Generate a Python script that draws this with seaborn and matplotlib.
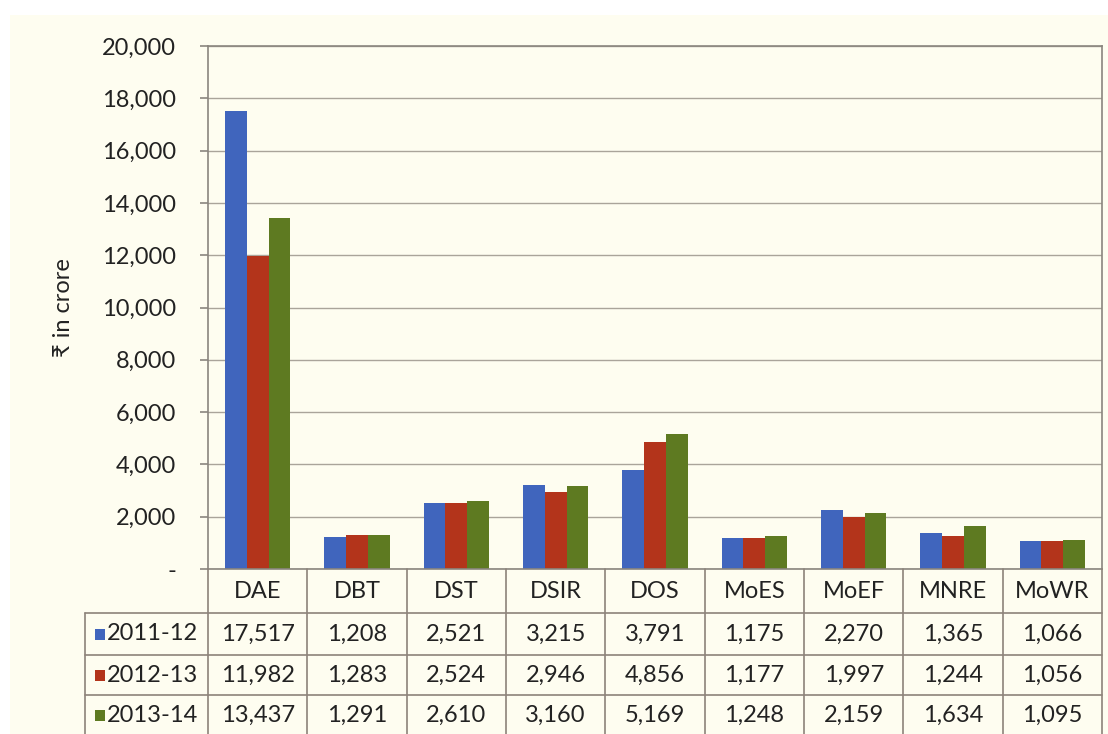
import matplotlib
matplotlib.use("Agg")
import matplotlib.pyplot as plt
import matplotlib.transforms as mtransforms
from matplotlib.patches import Rectangle
from matplotlib.lines import Line2D
import seaborn as sns
import pandas as pd

departments = ["DAE", "DBT", "DST", "DSIR", "DOS", "MoES", "MoEF", "MNRE", "MoWR"]
years = ["2011-12", "2012-13", "2013-14"]
v2011 = [17517, 1208, 2521, 3215, 3791, 1175, 2270, 1365, 1066]
v2012 = [11982, 1283, 2524, 2946, 4856, 1177, 1997, 1244, 1056]
v2013 = [13437, 1291, 2610, 3160, 5169, 1248, 2159, 1634, 1095]
yticks = [0, 2000, 4000, 6000, 8000, 10000, 12000, 14000, 16000, 18000, 20000]
colors = ["#4065bd", "#b3341b", "#5e7a21"]

series = [v2011, v2012, v2013]
rows = []
for yr, vals in zip(years, series):
    for d, v in zip(departments, vals):
        rows.append({"Department": d, "Year": yr, "Value": v})
df = pd.DataFrame(rows)

sns.set_theme(style="white")
plt.rcParams["font.family"] = ["Lato", "DejaVu Sans"]

W, H = 1108, 734
fig = plt.figure(figsize=(W / 100, H / 100), dpi=100)
fig.patch.set_facecolor("white")
bg = "#fefdf0"
fig.add_artist(Rectangle((10 / W, 0), 1 - 10 / W, 1 - 15 / H, transform=fig.transFigure,
                         facecolor=bg, edgecolor="none", zorder=-10))

L, R, T, B = 208, 1102, 46, 569
ax = fig.add_axes([L / W, 1 - B / H, (R - L) / W, (B - T) / H])
ax.set_facecolor(bg)

sns.barplot(data=df, x="Department", y="Value", hue="Year", palette=colors,
            width=0.66, saturation=1, ax=ax, legend=False, edgecolor="none")

ax.set_xlim(-0.5, len(departments) - 0.5)
ax.set_ylim(0, 20000)
ax.set_yticks(yticks)
ax.set_yticklabels(["-" if t == 0 else f"{t:,}" for t in yticks], fontsize=17, color="#222222")
ax.set_xticks([])
ax.set_xlabel("")
ax.set_ylabel("₹ in crore", fontsize=17, color="#222222", labelpad=20)
ax.grid(axis="y", color="#aaa49a", linewidth=1.0)
ax.set_axisbelow(True)
for s in ax.spines.values():
    s.set_color("#8a857e")
    s.set_linewidth(1.2)
ax.tick_params(axis="y", direction="out", length=6, width=1.2, color="#8a857e", pad=17, left=True)

# Data table below the plot
trans = mtransforms.blended_transform_factory(ax.transData, fig.transFigure)
def fy(p):
    return 1 - p / H

row_edges = [569, 613, 655, 695, 736]
line_col = "#8d837a"
x_left_px = 85
n = len(departments)

for i, yp in enumerate(row_edges[1:]):
    fig.add_artist(Line2D([x_left_px / W, R / W], [fy(yp), fy(yp)], transform=fig.transFigure,
                          color=line_col, linewidth=1.2))
for k in range(n + 1):
    xk = -0.5 + k
    fig.add_artist(Line2D([xk, xk], [fy(row_edges[0]), fy(row_edges[-1])], transform=trans,
                          color=line_col, linewidth=1.2, clip_on=False))
fig.add_artist(Line2D([x_left_px / W, x_left_px / W], [fy(row_edges[1]), fy(row_edges[-1])],
                      transform=fig.transFigure, color=line_col, linewidth=1.2))

for i, d in enumerate(departments):
    fig.text(i, fy((row_edges[0] + row_edges[1]) / 2), d, transform=trans,
             ha="center", va="center", fontsize=17, color="#222222")

for r, (yr, vals, c) in enumerate(zip(years, series, colors)):
    yc = fy((row_edges[r + 1] + row_edges[r + 2]) / 2)
    fig.add_artist(Rectangle((95 / W, yc - 5.5 / H), 10 / W, 11 / H, transform=fig.transFigure,
                             facecolor=c, edgecolor="none"))
    fig.text(107 / W, yc, yr, ha="left", va="center", fontsize=17, color="#222222")
    for i, v in enumerate(vals):
        fig.text(i, yc, f"{v:,}", transform=trans, ha="center", va="center",
                 fontsize=17, color="#222222")

fig.savefig("out.png", dpi=100, facecolor=fig.get_facecolor())
